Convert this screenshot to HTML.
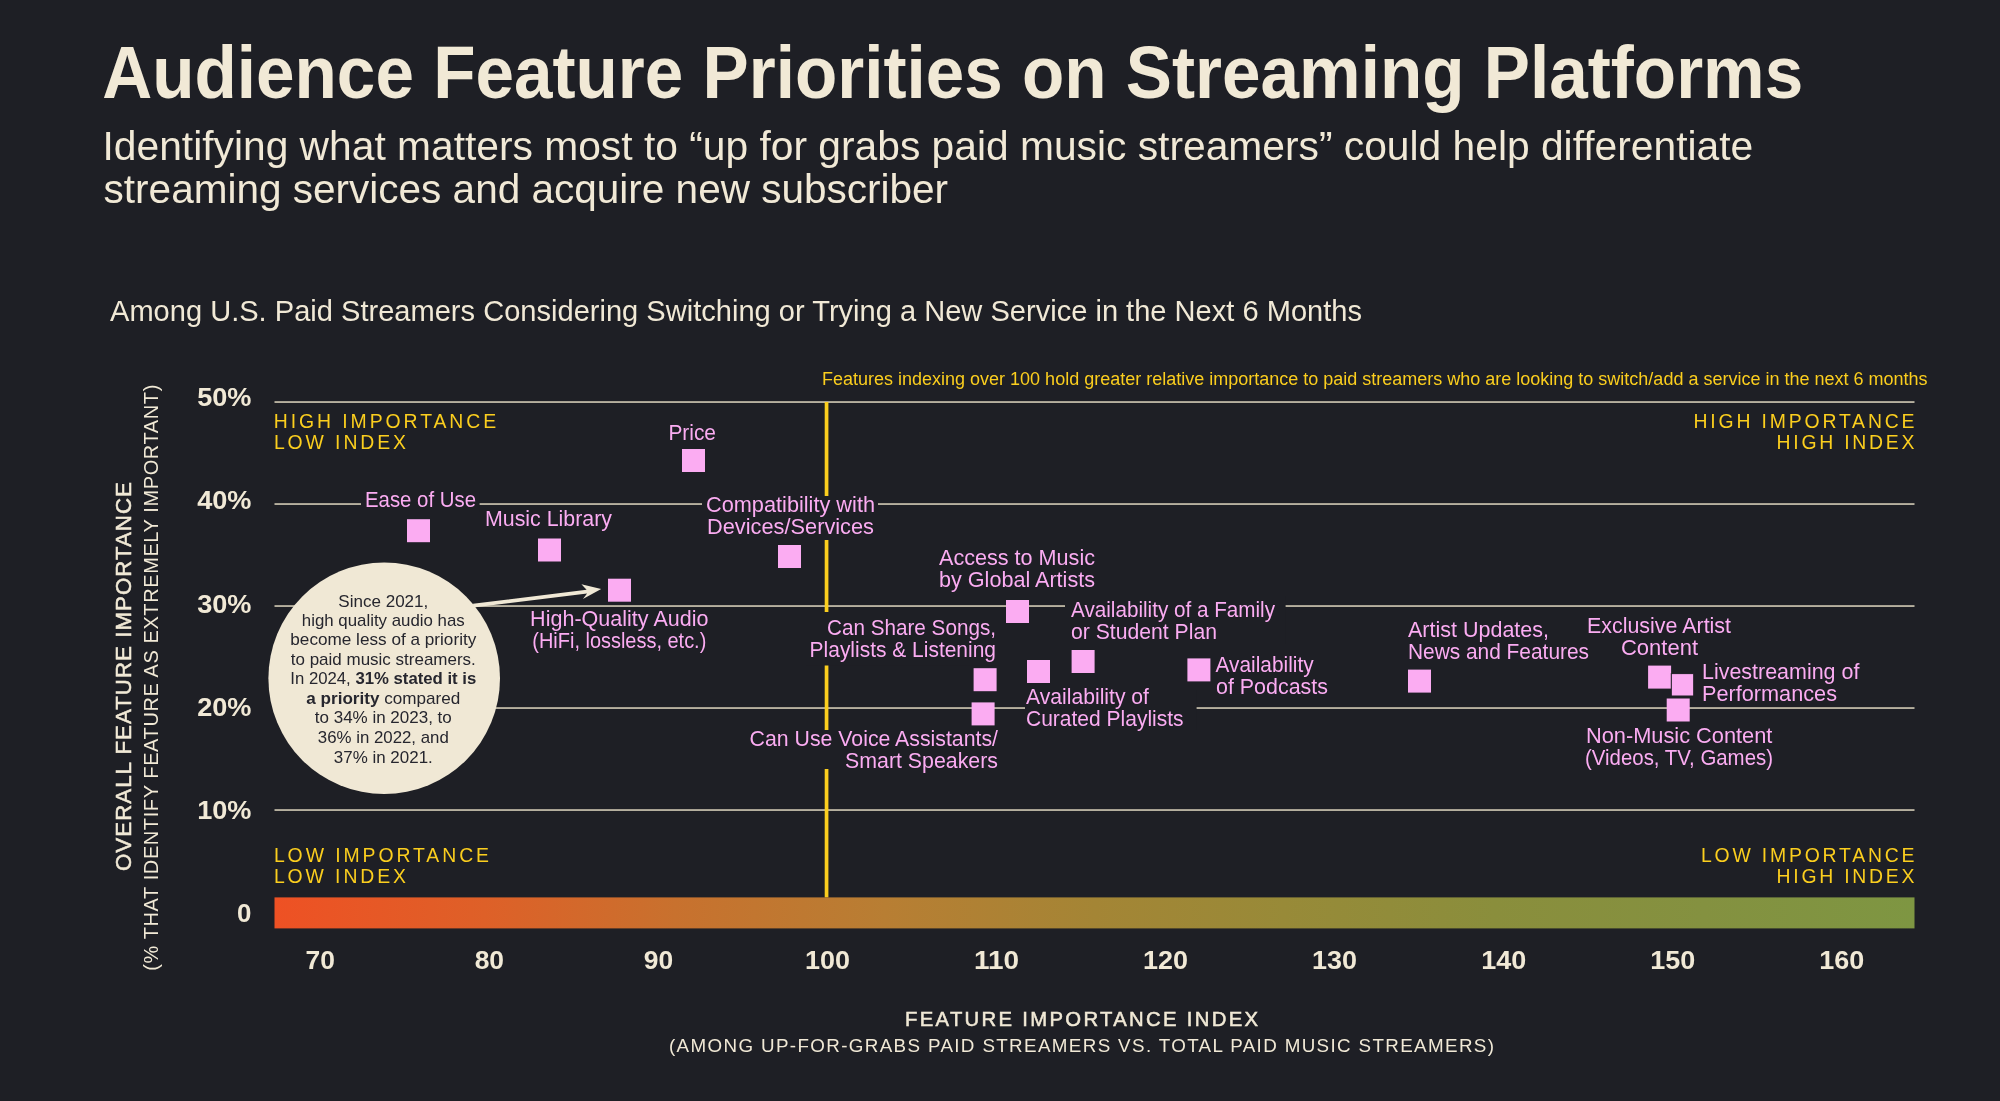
<!DOCTYPE html>
<html lang="en">
<head>
<meta charset="utf-8">
<title>Audience Feature Priorities on Streaming Platforms</title>
<style>
html,body{margin:0;padding:0;background:#1e1f25;}
body{width:2000px;height:1101px;overflow:hidden;}
svg{display:block;font-family:"Liberation Sans",sans-serif;will-change:transform;}
</style>
</head>
<body>
<svg width="2000" height="1101" viewBox="0 0 2000 1101">
<defs>
<linearGradient id="g" x1="0" y1="0" x2="1" y2="0">
<stop offset="0" stop-color="#ee5124"/>
<stop offset="0.128" stop-color="#de6028"/>
<stop offset="0.244" stop-color="#c8712e"/>
<stop offset="0.372" stop-color="#b87e33"/>
<stop offset="0.5" stop-color="#a48535"/>
<stop offset="0.6155" stop-color="#988a38"/>
<stop offset="0.7435" stop-color="#8a8e3c"/>
<stop offset="0.8715" stop-color="#849140"/>
<stop offset="1" stop-color="#7e9642"/>
</linearGradient>
</defs>
<rect x="0" y="0" width="2000" height="1101" fill="#1e1f25"/>
<rect x="274.5" y="401.1" width="1640.0" height="1.9" fill="#b6b09f" />
<rect x="274.5" y="503.1" width="1640.0" height="1.9" fill="#b6b09f" />
<rect x="274.5" y="605.1" width="1640.0" height="1.9" fill="#b6b09f" />
<rect x="274.5" y="707.1" width="1640.0" height="1.9" fill="#b6b09f" />
<rect x="274.5" y="809.1" width="1640.0" height="1.9" fill="#b6b09f" />
<rect x="824.7" y="402" width="3.7" height="495.5" fill="#fbce1e" />
<rect x="274.5" y="897.4" width="1640.0" height="31" fill="url(#g)"/>
<rect x="361" y="492" width="118.6" height="20" fill="#1e1f25" />
<rect x="702" y="496" width="176" height="44" fill="#1e1f25" />
<rect x="806" y="612" width="194" height="53.5" fill="#1e1f25" />
<rect x="745" y="730" width="256" height="39" fill="#1e1f25" />
<rect x="1065" y="596" width="220.6" height="48" fill="#1e1f25" />
<rect x="1025" y="690" width="171.6" height="40" fill="#1e1f25" />
<circle cx="384.2" cy="678.3" r="115.8" fill="#f0e8d5"/>
<path d="M473 603.7 L586.6 589.7 L581.4 584.2 L601.2 589 L582.9 599.1 L587.1 593.5 L473.4 607.4 Z" fill="#f0e8d5"/>
<rect x="682" y="449" width="23" height="23" fill="#fbacf2" />
<rect x="407" y="519.2" width="23" height="23" fill="#fbacf2" />
<rect x="538" y="538.5" width="23" height="23" fill="#fbacf2" />
<rect x="608" y="578.7" width="23" height="23" fill="#fbacf2" />
<rect x="778" y="545" width="23" height="23" fill="#fbacf2" />
<rect x="1006" y="600" width="23" height="23" fill="#fbacf2" />
<rect x="973.6" y="668.2" width="23" height="23" fill="#fbacf2" />
<rect x="1027" y="660" width="23" height="23" fill="#fbacf2" />
<rect x="1071.6" y="650" width="23" height="23" fill="#fbacf2" />
<rect x="971.6" y="702.4" width="23" height="23" fill="#fbacf2" />
<rect x="1187.4" y="658.4" width="23" height="23" fill="#fbacf2" />
<rect x="1408" y="669.6" width="23" height="23" fill="#fbacf2" />
<rect x="1648.1" y="665.6" width="23" height="23" fill="#fbacf2" />
<rect x="1671.3" y="673.6" width="22.4" height="22.4" fill="#fbacf2" stroke="#1e1f25" stroke-width="1"/>
<rect x="1666.7" y="698.5" width="23" height="23" fill="#fbacf2" />
<text x="102.2" y="98" font-size="73.4" fill="#f1e9d6" font-weight="bold" textLength="1701" lengthAdjust="spacingAndGlyphs">Audience Feature Priorities on Streaming Platforms</text>
<text x="102.5" y="159.6" font-size="40" fill="#f1e9d6" textLength="1650.7" lengthAdjust="spacingAndGlyphs">Identifying what matters most to “up for grabs paid music streamers” could help differentiate</text>
<text x="103.6" y="202.8" font-size="40" fill="#f1e9d6" textLength="844.5" lengthAdjust="spacingAndGlyphs">streaming services and acquire new subscriber</text>
<text x="110" y="321" font-size="29" fill="#f1e9d6" textLength="1252" lengthAdjust="spacingAndGlyphs">Among U.S. Paid Streamers Considering Switching or Trying a New Service in the Next 6 Months</text>
<text x="822" y="385" font-size="18" fill="#fbce1e" textLength="1105.5" lengthAdjust="spacingAndGlyphs">Features indexing over 100 hold greater relative importance to paid streamers who are looking to switch/add a service in the next 6 months</text>
<text x="273.7" y="428.2" font-size="19.4" fill="#fbce1e" textLength="222.5" lengthAdjust="spacing">HIGH IMPORTANCE</text>
<text x="273.9" y="449.2" font-size="19.4" fill="#fbce1e" textLength="132.1" lengthAdjust="spacing">LOW INDEX</text>
<text x="273.9" y="861.5" font-size="19.4" fill="#fbce1e" textLength="215.1" lengthAdjust="spacing">LOW IMPORTANCE</text>
<text x="273.9" y="882.5" font-size="19.4" fill="#fbce1e" textLength="132.1" lengthAdjust="spacing">LOW INDEX</text>
<text x="1914.5" y="428" font-size="19.4" fill="#fbce1e" text-anchor="end" textLength="221" lengthAdjust="spacing">HIGH IMPORTANCE</text>
<text x="1914.5" y="449" font-size="19.4" fill="#fbce1e" text-anchor="end" textLength="138" lengthAdjust="spacing">HIGH INDEX</text>
<text x="1914.5" y="861.5" font-size="19.4" fill="#fbce1e" text-anchor="end" textLength="213.5" lengthAdjust="spacing">LOW IMPORTANCE</text>
<text x="1914.5" y="882.5" font-size="19.4" fill="#fbce1e" text-anchor="end" textLength="138" lengthAdjust="spacing">HIGH INDEX</text>
<text x="251.5" y="406.4" font-size="25.2" fill="#f1e9d6" text-anchor="end" font-weight="bold" textLength="54.3" lengthAdjust="spacingAndGlyphs">50%</text>
<text x="251.5" y="509.4" font-size="25.2" fill="#f1e9d6" text-anchor="end" font-weight="bold" textLength="54.3" lengthAdjust="spacingAndGlyphs">40%</text>
<text x="251.5" y="612.5" font-size="25.2" fill="#f1e9d6" text-anchor="end" font-weight="bold" textLength="54.3" lengthAdjust="spacingAndGlyphs">30%</text>
<text x="251.5" y="715.5" font-size="25.2" fill="#f1e9d6" text-anchor="end" font-weight="bold" textLength="54.3" lengthAdjust="spacingAndGlyphs">20%</text>
<text x="251.5" y="818.6" font-size="25.2" fill="#f1e9d6" text-anchor="end" font-weight="bold" textLength="54.3" lengthAdjust="spacingAndGlyphs">10%</text>
<text x="251.5" y="921.6" font-size="25.2" fill="#f1e9d6" text-anchor="end" font-weight="bold" textLength="14.4" lengthAdjust="spacingAndGlyphs">0</text>
<text x="320.3" y="969.4" font-size="25.2" fill="#f1e9d6" text-anchor="middle" font-weight="bold" textLength="29.4" lengthAdjust="spacingAndGlyphs">70</text>
<text x="489.35" y="969.4" font-size="25.2" fill="#f1e9d6" text-anchor="middle" font-weight="bold" textLength="29.4" lengthAdjust="spacingAndGlyphs">80</text>
<text x="658.4000000000001" y="969.4" font-size="25.2" fill="#f1e9d6" text-anchor="middle" font-weight="bold" textLength="29.4" lengthAdjust="spacingAndGlyphs">90</text>
<text x="827.45" y="969.4" font-size="25.2" fill="#f1e9d6" text-anchor="middle" font-weight="bold" textLength="45" lengthAdjust="spacingAndGlyphs">100</text>
<text x="996.5" y="969.4" font-size="25.2" fill="#f1e9d6" text-anchor="middle" font-weight="bold" textLength="45" lengthAdjust="spacingAndGlyphs">110</text>
<text x="1165.55" y="969.4" font-size="25.2" fill="#f1e9d6" text-anchor="middle" font-weight="bold" textLength="45" lengthAdjust="spacingAndGlyphs">120</text>
<text x="1334.6000000000001" y="969.4" font-size="25.2" fill="#f1e9d6" text-anchor="middle" font-weight="bold" textLength="45" lengthAdjust="spacingAndGlyphs">130</text>
<text x="1503.65" y="969.4" font-size="25.2" fill="#f1e9d6" text-anchor="middle" font-weight="bold" textLength="45" lengthAdjust="spacingAndGlyphs">140</text>
<text x="1672.7" y="969.4" font-size="25.2" fill="#f1e9d6" text-anchor="middle" font-weight="bold" textLength="45" lengthAdjust="spacingAndGlyphs">150</text>
<text x="1841.75" y="969.4" font-size="25.2" fill="#f1e9d6" text-anchor="middle" font-weight="bold" textLength="45" lengthAdjust="spacingAndGlyphs">160</text>
<text x="1081.5" y="1026" font-size="20.3" fill="#f1e9d6" text-anchor="middle" textLength="353" lengthAdjust="spacing" stroke="#f1e9d6" stroke-width="0.5">FEATURE IMPORTANCE INDEX</text>
<text x="1081.5" y="1052" font-size="18.8" fill="#f1e9d6" text-anchor="middle" textLength="825" lengthAdjust="spacing">(AMONG UP-FOR-GRABS PAID STREAMERS VS. TOTAL PAID MUSIC STREAMERS)</text>
<text x="0" y="0" font-size="22.3" fill="#f1e9d6" text-anchor="middle" textLength="389" lengthAdjust="spacing" transform="translate(131.3 676.5) rotate(-90)" stroke="#f1e9d6" stroke-width="0.5">OVERALL FEATURE IMPORTANCE</text>
<text x="0" y="0" font-size="20" fill="#f1e9d6" text-anchor="middle" textLength="586" lengthAdjust="spacing" transform="translate(158 677.7) rotate(-90)">(% THAT IDENTIFY FEATURE AS EXTREMELY IMPORTANT)</text>
<text x="668.4" y="440" font-size="21.6" fill="#fbacf2" textLength="47.6" lengthAdjust="spacingAndGlyphs">Price</text>
<text x="365" y="507" font-size="21.6" fill="#fbacf2" textLength="111" lengthAdjust="spacingAndGlyphs">Ease of Use</text>
<text x="485" y="526.4" font-size="21.6" fill="#fbacf2" textLength="127" lengthAdjust="spacingAndGlyphs">Music Library</text>
<text x="706" y="512" font-size="21.6" fill="#fbacf2" textLength="169" lengthAdjust="spacingAndGlyphs">Compatibility with</text>
<text x="707" y="534.2" font-size="21.6" fill="#fbacf2" textLength="167" lengthAdjust="spacingAndGlyphs">Devices/Services</text>
<text x="619.3" y="626" font-size="21.6" fill="#fbacf2" text-anchor="middle" textLength="178.4" lengthAdjust="spacingAndGlyphs">High-Quality Audio</text>
<text x="619.3" y="648" font-size="21.6" fill="#fbacf2" text-anchor="middle" textLength="174" lengthAdjust="spacingAndGlyphs">(HiFi, lossless, etc.)</text>
<text x="939" y="565" font-size="21.6" fill="#fbacf2" textLength="156" lengthAdjust="spacingAndGlyphs">Access to Music</text>
<text x="939" y="587" font-size="21.6" fill="#fbacf2" textLength="156" lengthAdjust="spacingAndGlyphs">by Global Artists</text>
<text x="996" y="635" font-size="21.6" fill="#fbacf2" text-anchor="end" textLength="169" lengthAdjust="spacingAndGlyphs">Can Share Songs,</text>
<text x="996" y="657" font-size="21.6" fill="#fbacf2" text-anchor="end" textLength="186.4" lengthAdjust="spacingAndGlyphs">Playlists &amp; Listening</text>
<text x="998" y="746" font-size="21.6" fill="#fbacf2" text-anchor="end" textLength="248.4" lengthAdjust="spacingAndGlyphs">Can Use Voice Assistants/</text>
<text x="998" y="768" font-size="21.6" fill="#fbacf2" text-anchor="end" textLength="153" lengthAdjust="spacingAndGlyphs">Smart Speakers</text>
<text x="1071" y="617" font-size="21.6" fill="#fbacf2" textLength="204" lengthAdjust="spacingAndGlyphs">Availability of a Family</text>
<text x="1071" y="639" font-size="21.6" fill="#fbacf2" textLength="146" lengthAdjust="spacingAndGlyphs">or Student Plan</text>
<text x="1026" y="704" font-size="21.6" fill="#fbacf2" textLength="123" lengthAdjust="spacingAndGlyphs">Availability of</text>
<text x="1026" y="726" font-size="21.6" fill="#fbacf2" textLength="157.6" lengthAdjust="spacingAndGlyphs">Curated Playlists</text>
<text x="1215.6" y="672" font-size="21.6" fill="#fbacf2" textLength="98" lengthAdjust="spacingAndGlyphs">Availability</text>
<text x="1216" y="694.2" font-size="21.6" fill="#fbacf2" textLength="112" lengthAdjust="spacingAndGlyphs">of Podcasts</text>
<text x="1408" y="637" font-size="21.6" fill="#fbacf2" textLength="141" lengthAdjust="spacingAndGlyphs">Artist Updates,</text>
<text x="1408" y="659" font-size="21.6" fill="#fbacf2" textLength="181" lengthAdjust="spacingAndGlyphs">News and Features</text>
<text x="1659" y="633" font-size="21.6" fill="#fbacf2" text-anchor="middle" textLength="144" lengthAdjust="spacingAndGlyphs">Exclusive Artist</text>
<text x="1659.5" y="655" font-size="21.6" fill="#fbacf2" text-anchor="middle" textLength="77" lengthAdjust="spacingAndGlyphs">Content</text>
<text x="1702" y="679" font-size="21.6" fill="#fbacf2" textLength="157.4" lengthAdjust="spacingAndGlyphs">Livestreaming of</text>
<text x="1702" y="701" font-size="21.6" fill="#fbacf2" textLength="135" lengthAdjust="spacingAndGlyphs">Performances</text>
<text x="1586" y="743" font-size="21.6" fill="#fbacf2" textLength="186.4" lengthAdjust="spacingAndGlyphs">Non-Music Content</text>
<text x="1585" y="765" font-size="21.6" fill="#fbacf2" textLength="188" lengthAdjust="spacingAndGlyphs">(Videos, TV, Games)</text>
<text x="383.3" y="606.6" font-size="17" fill="#26262e" text-anchor="middle" textLength="90" lengthAdjust="spacingAndGlyphs">Since 2021,</text>
<text x="383.3" y="625.9" font-size="17" fill="#26262e" text-anchor="middle" textLength="163" lengthAdjust="spacingAndGlyphs">high quality audio has</text>
<text x="383.3" y="645.2" font-size="17" fill="#26262e" text-anchor="middle" textLength="186" lengthAdjust="spacingAndGlyphs">become less of a priority</text>
<text x="383.3" y="664.8" font-size="17" fill="#26262e" text-anchor="middle" textLength="185" lengthAdjust="spacingAndGlyphs">to paid music streamers.</text>
<text x="383.3" y="684.2" font-size="17" fill="#26262e" text-anchor="middle" textLength="186" lengthAdjust="spacingAndGlyphs">In 2024, <tspan font-weight="bold">31% stated it is</tspan></text>
<text x="383.3" y="703.7" font-size="17" fill="#26262e" text-anchor="middle" textLength="154" lengthAdjust="spacingAndGlyphs"><tspan font-weight="bold">a priority</tspan> compared</text>
<text x="383.3" y="723.3" font-size="17" fill="#26262e" text-anchor="middle" textLength="137" lengthAdjust="spacingAndGlyphs">to 34% in 2023, to</text>
<text x="383.3" y="743.0" font-size="17" fill="#26262e" text-anchor="middle" textLength="131" lengthAdjust="spacingAndGlyphs">36% in 2022, and</text>
<text x="383.3" y="762.6" font-size="17" fill="#26262e" text-anchor="middle" textLength="99" lengthAdjust="spacingAndGlyphs">37% in 2021.</text>
</svg>
</body>
</html>
